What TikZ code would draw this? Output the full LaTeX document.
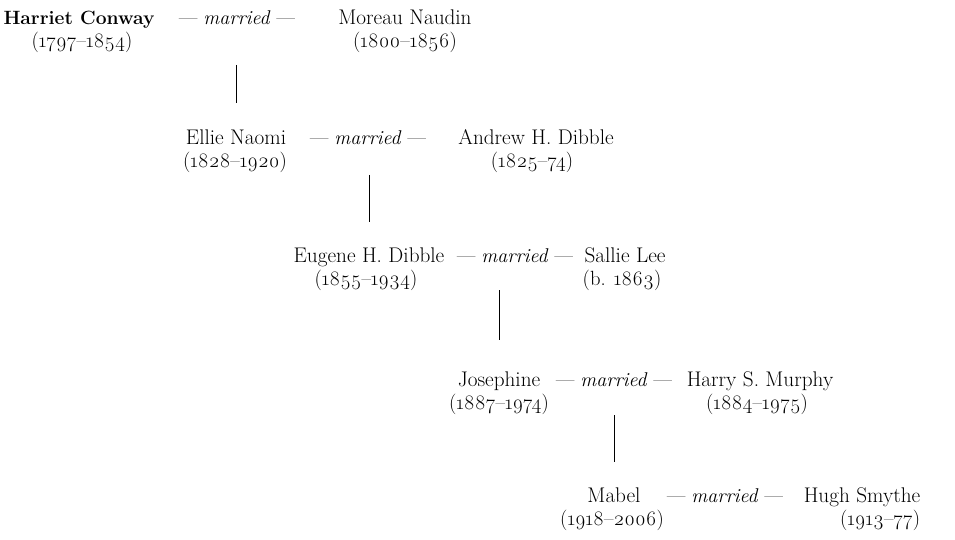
\documentclass[tikz,border=0pt]{standalone}
\usepackage{fontspec}
\setmainfont{Latin Modern Roman}[Numbers=OldStyle]
\begin{document}
\begin{tikzpicture}[x=0.0265cm, y=-0.0265cm,
  every node/.style={anchor=base, inner sep=0pt, font=\fontsize{16}{19}\selectfont},
  dates/.style={font=\fontsize{15.5}{18}\selectfont},
  wed/.style={font=\fontsize{15}{18}\selectfont},
  line width=0.6pt]
\useasboundingbox (0,0) rectangle (955,540);

% Harriet Conway and Moreau Naudin
\node[font=\fontsize{14.5}{18}\selectfont\bfseries] (harriet) at (79,25) {Harriet Conway};
\node[dates] (harrietd) at (82,48) {(1797–1854)};
\node[wed] (m1) at (237,25) {— \textit{married} —};
\node (moreau) at (405,25) {Moreau Naudin};
\node[dates] (moreaud) at (405,48) {(1800–1856)};

% Ellie Naomi and Andrew H. Dibble
\node (ellie) at (236,145) {Ellie Naomi};
\node[dates] (ellied) at (235,168) {(1828–1920)};
\node[wed] (m2) at (368,145) {— \textit{married} —};
\node (andrew) at (536,145) {Andrew H. Dibble};
\node[dates] (andrewd) at (532,168) {(1825–74)};

% Eugene H. Dibble and Sallie Lee
\node (eugene) at (369,262) {Eugene H. Dibble};
\node[dates] (eugened) at (366,285) {(1855–1934)};
\node[wed] (m3) at (515,262) {— \textit{married} —};
\node (sallie) at (625,262) {Sallie Lee};
\node[dates] (sallied) at (622,285) {(b. 1863)};

% Josephine and Harry S. Murphy
\node (josephine) at (499,386) {Josephine};
\node[dates] (josephined) at (499,409) {(1887–1974)};
\node[wed] (m4) at (614,386) {— \textit{married} —};
\node (harry) at (760,386) {Harry S. Murphy};
\node[dates] (harryd) at (757,409) {(1884–1975)};

% Mabel and Hugh Smythe
\node (mabel) at (614,502) {Mabel};
\node[dates] (mabeld) at (612,525) {(1918–2006)};
\node[wed] (m5) at (725,502) {— \textit{married} —};
\node (hugh) at (862,502) {Hugh Smythe};
\node[dates, anchor=base east] (hughd) at (hugh.base east |- 0,525) {(1913–77)};

% Descent lines
\draw (ellie |- 0,65) -- (ellie |- 0,103);
\draw (eugene |- 0,175) -- (eugene |- 0,222);
\draw (josephine |- 0,290) -- (josephine |- 0,340);
\draw (mabel |- 0,415) -- (mabel |- 0,462);

\end{tikzpicture}
\end{document}
